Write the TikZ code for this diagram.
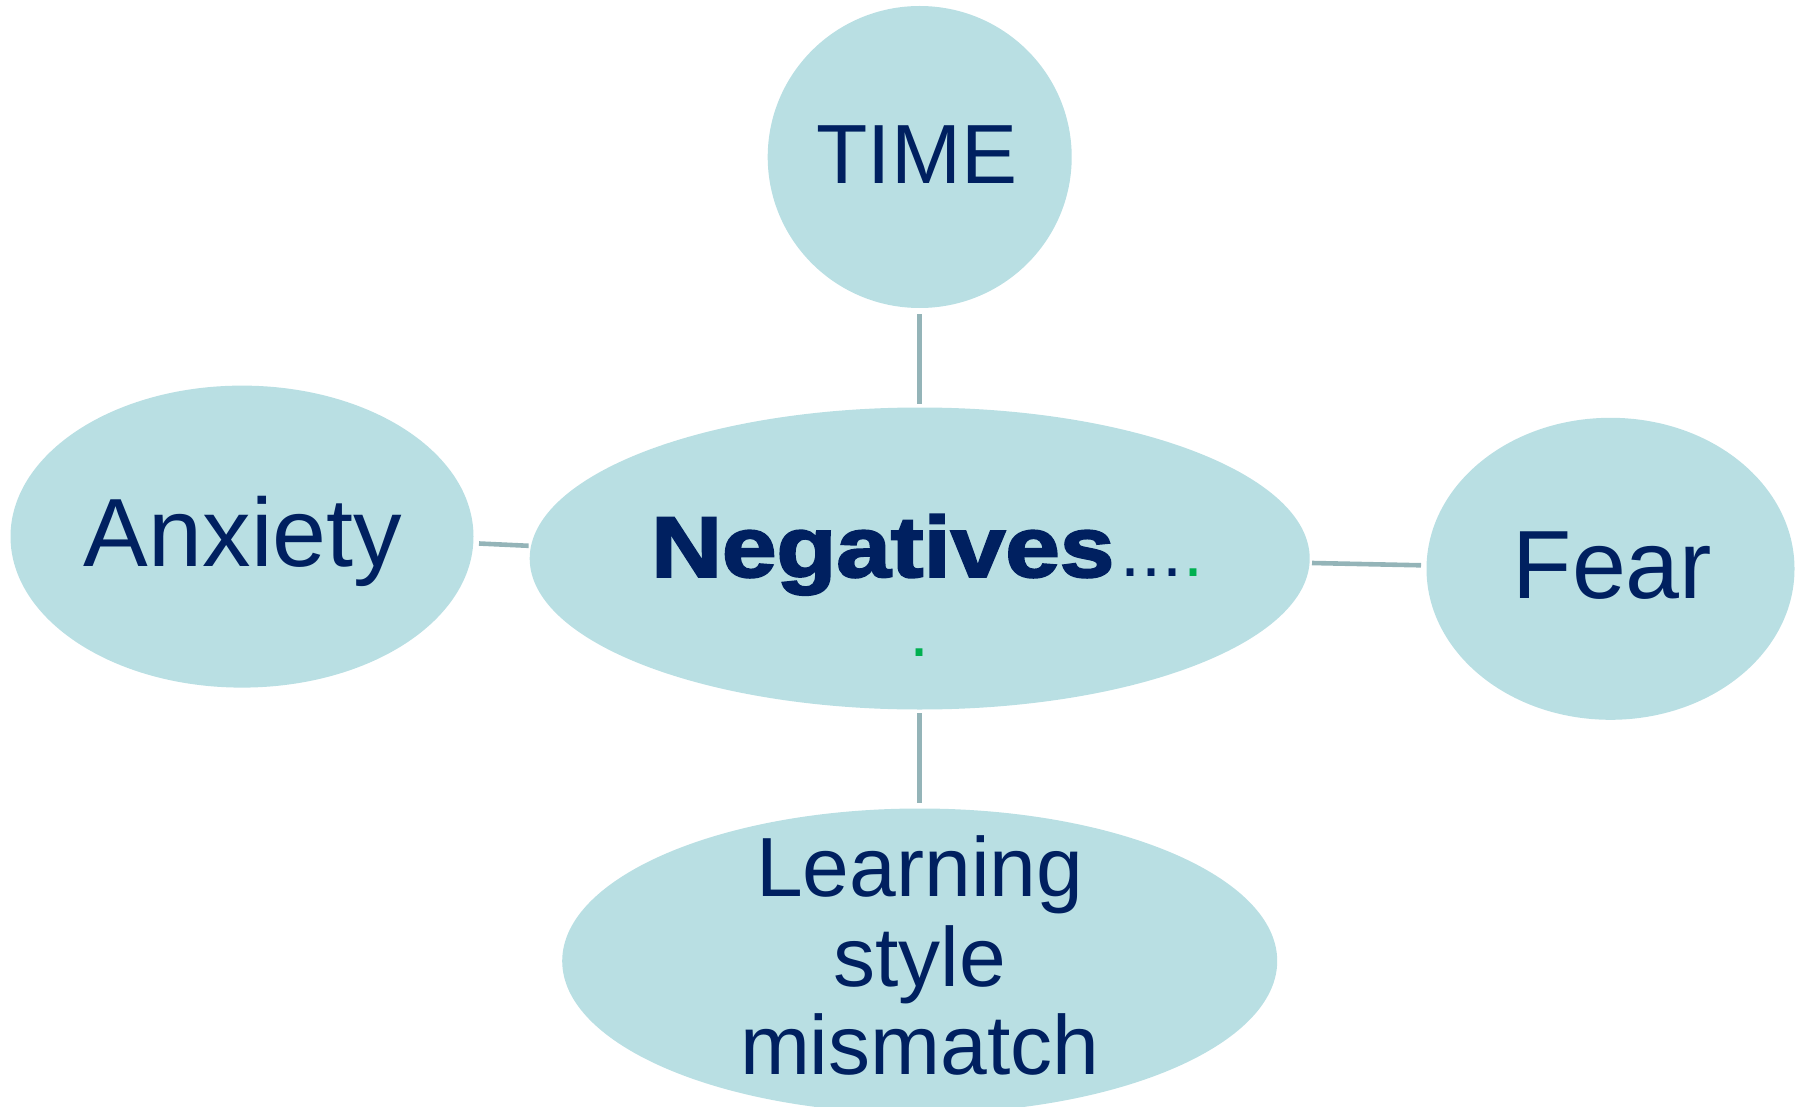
\documentclass[tikz,border=0pt]{standalone}
\usepackage{fontspec}
\setmainfont{Liberation Sans}
\newfontfamily\heavyfont[FakeBold=2.6,FakeStretch=1.14]{Liberation Sans Bold}
\usetikzlibrary{shapes.geometric}
\definecolor{bubble}{RGB}{185,223,227}
\definecolor{linkcol}{RGB}{148,180,184}
\definecolor{ink}{RGB}{0,32,96}
\definecolor{dotgreen}{RGB}{0,176,80}
\tikzset{
  bubble/.style={ellipse,fill=bubble,draw=none,inner sep=0pt},
  link/.style={draw=linkcol,line width=4.6pt},
  label/.style={text=ink,anchor=base,inner sep=0pt},
  smalltxt/.style={label,font=\fontsize{84}{90}\selectfont},
  bigtxt/.style={label,font=\fontsize{97}{104}\selectfont},
}
\begin{document}
\begin{tikzpicture}[x=1pt,y=-1pt]
\useasboundingbox (0,0) rectangle (1798,1107);
\clip (0,0) rectangle (1798,1107);

% the five bubbles
\node[bubble,minimum width=304pt,minimum height=302pt] (time) at (919.7,157) {};
\node[bubble,minimum width=780pt,minimum height=302pt] (neg) at (919.7,558.5) {};
\node[bubble,minimum width=463pt,minimum height=302pt] (anx) at (242,536.6) {};
\node[bubble,minimum width=368pt,minimum height=302pt] (fear) at (1610.5,568.8) {};
\node[bubble,minimum width=715pt,minimum height=305pt] (learn) at (919.7,961) {};

% connector end points
\coordinate (timeA) at (919.7,314);
\coordinate (timeB) at (919.7,404);
\coordinate (anxA) at (479,543.5);
\coordinate (anxB) at (528.6,545.8);
\coordinate (fearA) at (1312,563);
\coordinate (fearB) at (1421,565.3);
\coordinate (learnA) at (919.7,713);
\coordinate (learnB) at (919.7,803);

\draw[link] (timeA) -- (timeB);
\draw[link] (anxA) -- (anxB);
\draw[link] (fearA) -- (fearB);
\draw[link] (learnA) -- (learnB);

% texts
\node[smalltxt] (timetxt) at (916.8,183.5) {TIME};
\node[bigtxt] (anxtxt) at (243,566.5) {Anxiety};
\node[bigtxt] (feartxt) at (1612.5,598.6) {Fear};
\node[smalltxt] (learn1) at (919.7,896.7) {Learning};
\node[smalltxt] (learn2) at (919.7,986) {style};
\node[smalltxt] (learn3) at (919.7,1074.5) {mismatch};

\node[label,anchor=base west,font=\heavyfont\fontsize{86}{90}\selectfont] (negtxt) at (651,576.8) {Negatives};
\node[label,anchor=base west,font=\fontsize{72}{76}\selectfont] (dots) at (negtxt.base east)
  {\kern6pt.\kern1pt.\kern1pt.\kern1pt\textcolor{dotgreen}{.}};
\node[label,text=dotgreen,font=\fontsize{72}{76}\selectfont] (dot2) at (919.7,656) {.};
\end{tikzpicture}
\end{document}
